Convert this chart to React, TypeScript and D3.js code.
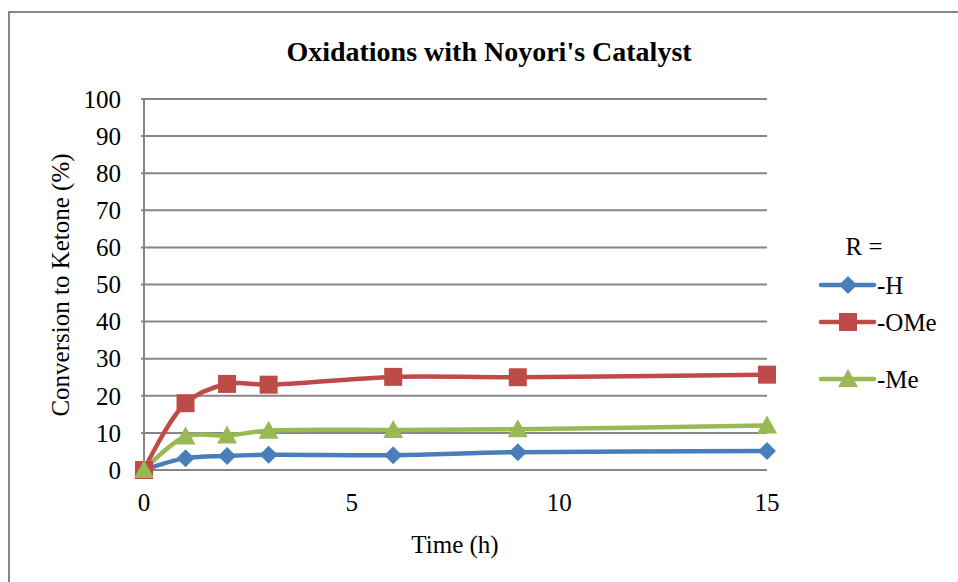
import React from "react";
import * as d3 from "d3";

const times = [0, 1, 2, 3, 6, 9, 15];
const seriesH = [0, 3.2, 3.8, 4.1, 4.0, 4.8, 5.1];
const seriesOMe = [0, 18.0, 23.2, 23.0, 25.1, 25.0, 25.7];
const seriesMe = [0, 9.0, 9.3, 10.6, 10.8, 11.0, 12.0];
const seriesNames = ["-H", "-OMe", "-Me"];
const yTicks = [0, 10, 20, 30, 40, 50, 60, 70, 80, 90, 100];
const xTicks = [0, 5, 10, 15];

const colors = ["#4A7EBB", "#BE4B48", "#98B954"];
const font = "'Liberation Serif', 'Times New Roman', serif";
const fs = 25;

function Marker({ kind, x, y, color }: { kind: number; x: number; y: number; color: string }) {
  if (kind === 0) {
    const s = 9;
    return <path d={`M${x},${y - s}L${x + s},${y}L${x},${y + s}L${x - s},${y}Z`} fill={color} />;
  }
  if (kind === 1) {
    const s = 9;
    return <rect x={x - s} y={y - s} width={2 * s} height={2 * s} fill={color} />;
  }
  const s = 10;
  return <path d={`M${x},${y - s}L${x + s},${y + s * 0.8}L${x - s},${y + s * 0.8}Z`} fill={color} />;
}

export default function App() {
  const W = 958, H = 582;
  const x = d3.scaleLinear().domain([0, 15]).range([144, 767]);
  const y = d3.scaleLinear().domain([0, 100]).range([470, 99]);
  const data = [seriesH, seriesOMe, seriesMe];
  const line = d3
    .line<[number, number]>()
    .x((d) => x(d[0]))
    .y((d) => y(d[1]))
    .curve(d3.curveCatmullRom.alpha(0.5));

  const legendY = [285, 322, 379];

  return (
    <svg width={W} height={H} style={{ position: "absolute", left: 0, top: 0 }}>
      <rect x={0} y={0} width={W} height={H} fill="#fff" />
      <path d={`M9,${H + 5}V12H${W + 5}`} fill="none" stroke="#868686" strokeWidth={2} />
      <text x={489} y={51} dy="0.35em" textAnchor="middle" fontFamily={font} fontWeight="bold" fontSize={28}>
        Oxidations with Noyori's Catalyst
      </text>
      {yTicks.map((t) => (
        <g key={t}>
          <line x1={141} x2={767} y1={y(t)} y2={y(t)} stroke="#868686" strokeWidth={2} />
          <text x={121} y={y(t)} dy="0.35em" textAnchor="end" fontFamily={font} fontSize={fs}>
            {t}
          </text>
        </g>
      ))}
      <line x1={144} x2={144} y1={y(100)} y2={y(0)} stroke="#868686" strokeWidth={2} />
      {xTicks.map((t) => (
        <text key={t} x={x(t)} y={502} dy="0.35em" textAnchor="middle" fontFamily={font} fontSize={fs}>
          {t}
        </text>
      ))}
      <text x={455} y={544} dy="0.35em" textAnchor="middle" fontFamily={font} fontSize={fs}>
        Time (h)
      </text>
      <text
        transform={`translate(60,285) rotate(-90)`}
        dy="0.35em"
        textAnchor="middle"
        fontFamily={font}
        fontSize={fs}
      >
        Conversion to Ketone (%)
      </text>
      {data.map((s, i) => (
        <path
          key={"l" + i}
          d={line(times.map((t, j) => [t, s[j]] as [number, number])) || ""}
          fill="none"
          stroke={colors[i]}
          strokeWidth={4.5}
          strokeLinejoin="round"
        />
      ))}
      {data.map((s, i) => (
        <g key={"m" + i}>
          {times.map((t, j) => (
            <Marker key={j} kind={i} x={x(t)} y={y(s[j])} color={colors[i]} />
          ))}
        </g>
      ))}
      <text x={864} y={246} dy="0.35em" textAnchor="middle" fontFamily={font} fontSize={fs}>
        R =
      </text>
      {seriesNames.map((n, i) => (
        <g key={n}>
          <line x1={821} x2={874} y1={legendY[i]} y2={legendY[i]} stroke={colors[i]} strokeWidth={4.5} strokeLinecap="round" />
          <Marker kind={i} x={848} y={legendY[i]} color={colors[i]} />
          <text x={877} y={legendY[i]} dy="0.35em" fontFamily={font} fontSize={fs}>
            {n}
          </text>
        </g>
      ))}
    </svg>
  );
}
